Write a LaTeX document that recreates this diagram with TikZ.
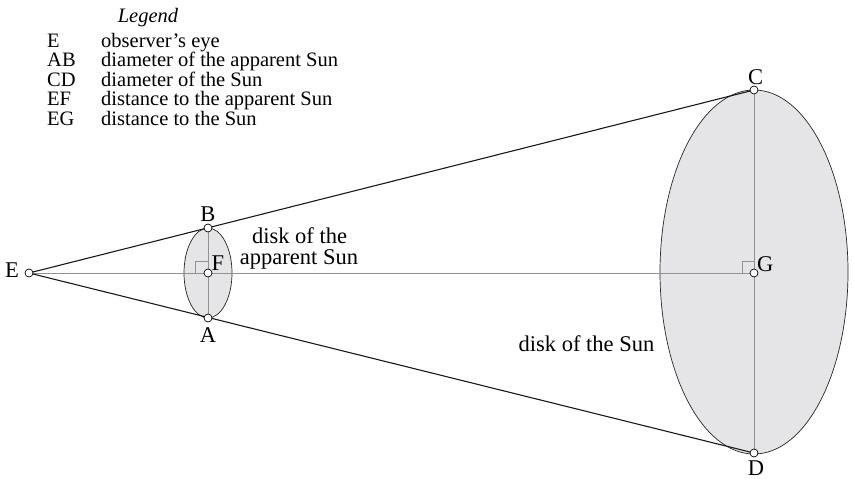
\documentclass[tikz,border=0pt]{standalone}
\usepackage{fontspec}
\setmainfont{Liberation Serif}
\usetikzlibrary{calc}
\definecolor{diskfill}{RGB}{229,229,231}
\definecolor{axisgray}{RGB}{145,145,145}
\begin{document}
\begin{tikzpicture}[x=1pt,y=-1pt,
  pt/.style={circle,draw=black,fill=white,line width=0.7pt,inner sep=0pt,minimum size=8pt},
  lbl/.style={font=\fontsize{22.5}{20}\selectfont,inner sep=0pt},
  leg/.style={font=\fontsize{20.5}{20}\selectfont,inner sep=0pt,anchor=base west},
  ray/.style={draw=black!90,line width=1.1pt},
  axis/.style={draw=axisgray,line width=0.8pt},
  disk/.style={draw=black!85,line width=0.7pt,fill=diskfill}]
\useasboundingbox (0,0) rectangle (854,479);
% disks
\draw[disk] (208,273) ellipse [x radius=24, y radius=45];
\draw[disk] (754,272) ellipse [x radius=94, y radius=182];
% coordinates
\coordinate (E) at (29,273);
\coordinate (F) at (208,273);
\coordinate (B) at (208,228);
\coordinate (A) at (208,318);
\coordinate (G) at (754,273);
\coordinate (C) at (754,90);
\coordinate (D) at (754,453);
% axes
\draw[axis] (E) -- (G);
\draw[axis] (B) -- (A);
\draw[axis] (C) -- (D);
% right angles
\draw[axis] ($(F)+(-13,0)$) -- ++(0,-12) -- ++(13,0);
\draw[axis] ($(G)+(-12,0)$) -- ++(0,-12) -- ++(12,0);
% rays
\draw[ray] (E) -- (C);
\draw[ray] (E) -- (D);
% points
\node[pt] (pE) at (E) {};
\node[pt] (pF) at (F) {};
\node[pt] (pB) at (B) {};
\node[pt] (pA) at (A) {};
\node[pt] (pG) at (G) {};
\node[pt] (pC) at (C) {};
\node[pt] (pD) at (D) {};
% labels
\node[lbl,anchor=base east] (lE) at (19,277) {E};
\node[lbl,anchor=base] (lB) at (208,221) {B};
\node[lbl,anchor=base] (lA) at (208,342) {A};
\node[lbl,anchor=base west] (lF) at (211.5,270) {F};
\node[lbl,anchor=base west] (lG) at (757,271) {G};
\node[lbl,anchor=base] (lC) at (755.5,84) {C};
\node[lbl,anchor=base] (lD) at (756,475.5) {D};
\node[lbl,anchor=base] (dapp1) at (299.5,243.3) {disk of the};
\node[lbl,anchor=base] (dapp2) at (299,264.5) {apparent Sun};
\node[lbl,anchor=base] (dsun) at (586.5,351.5) {disk of the Sun};
% legend
\node[leg,anchor=base,font=\fontsize{20.5}{20}\selectfont\itshape] (legt) at (148,23) {Legend};
\foreach \t/\d [count=\i] in {E/observer’s eye, AB/diameter of the apparent Sun, CD/diameter of the Sun, EF/distance to the apparent Sun, EG/distance to the Sun}{
  \node[leg] (k\i) at (47,{28+19.4*\i}) {\t};
  \node[leg] (d\i) at (101,{28+19.4*\i}) {\d};
}
\end{tikzpicture}
\end{document}
